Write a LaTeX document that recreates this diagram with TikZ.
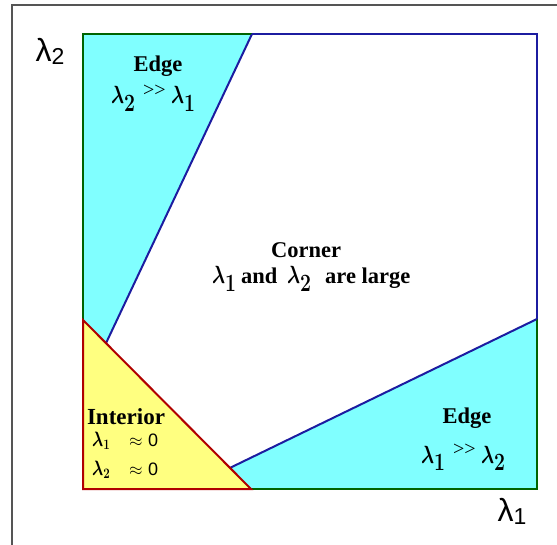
\documentclass[tikz,border=0pt]{standalone}
\usepackage{fontspec}
\setmainfont{Liberation Serif}
\newfontfamily\axisfont{Liberation Sans}
\usetikzlibrary{calc}
\definecolor{cyanfill}{HTML}{80FFFF}
\definecolor{yellowfill}{HTML}{FFFF80}
\definecolor{edgegreen}{HTML}{006400}
\definecolor{edgeblue}{HTML}{1C1CA0}
\definecolor{edgered}{HTML}{B00000}
\definecolor{framegray}{HTML}{555555}
\newcommand{\biglam}[1]{\scalebox{0.78}[1]{\fontsize{33}{36}\selectfont\boldmath$\lambda_{#1}$}}
\newcommand{\smalllam}[1]{\scalebox{0.8}[1]{\fontsize{22}{24}\selectfont\boldmath$\lambda_{#1}$}}
\newcommand{\muchgt}{{\fontsize{20}{20}\selectfont >\kern0pt>}}
\begin{document}
\begin{tikzpicture}[x=1pt,y=-1pt,
  region/.style={line width=2pt, line join=miter},
  title/.style={font=\fontsize{22.5}{26}\selectfont\bfseries, inner sep=0pt},
  piece/.style={inner sep=0pt, anchor=base west},
  word/.style={inner sep=0pt, anchor=base west, font=\fontsize{22.5}{26}\selectfont\bfseries},
  approxs/.style={inner sep=0pt, anchor=base west, font=\axisfont\fontsize{18}{20}\selectfont},
  axislabel/.style={font=\axisfont\fontsize{32}{34}\selectfont, inner sep=0pt}]
\useasboundingbox (0,0) rectangle (557,545);
% outer frame
\coordinate (fa) at (12,545);
\coordinate (fb) at (12,5);
\coordinate (fc) at (557,5);
\draw[framegray, line width=1.2pt] (fa) -- (fb) -- (fc);
% square corners
\coordinate (A) at (83,34);
\coordinate (B) at (537,34);
\coordinate (C) at (537,489);
\coordinate (D) at (83,489);
\coordinate (P1) at (252,34);
\coordinate (P3) at (83,320);
\coordinate (P4) at (251,489);
\coordinate (P2) at ($(P3)!0.137!(P4)$);
\coordinate (P5) at ($(P3)!0.875!(P4)$);
\coordinate (P6) at (537,319);
% regions
\fill[cyanfill] (A) -- (P1) -- (P2) -- (P3) -- cycle;
\fill[cyanfill] (P4) -- (C) -- (P6) -- (P5) -- cycle;
\fill[yellowfill] (P3) -- (D) -- (P4) -- cycle;
% outlines
\draw[region, edgegreen] (P3) -- (A) -- (P1);
\draw[region, edgegreen] (P4) -- (C) -- (P6);
\draw[region, edgeblue] (P1) -- (B) -- (P6);
\draw[region, edgeblue] (P1) -- (P2);
\draw[region, edgeblue] (P6) -- (P5);
\draw[region, edgered] (P3) -- (D) -- (P4) -- cycle;
% top edge region
\node[title] (edgeT) at (158,66) {Edge};
\node[piece] (tl2) at (111,104) {\biglam{2}};
\node[piece] (tgg) at (143,97) {\muchgt};
\node[piece] (tl1) at (171,104) {\biglam{1}};
% corner
\node[title] (corner) at (306,250) {Corner};
\node[piece] (cl1) at (212,284) {\biglam{1}};
\node[word] (cand) at (241,284) {and};
\node[piece] (cl2) at (287,284) {\biglam{2}};
\node[word] (clarge) at (325,284) {are large};
% interior
\node[title, font=\fontsize{23}{26}\selectfont\bfseries] (interior) at (126,417) {Interior};
\node[piece] (il1) at (92,446) {\smalllam{1}};
\node[approxs] (ia1) at (129,446) {$\approx$};
\node[approxs] (iz1) at (148,446) {0};
\node[piece] (il2) at (92,475) {\smalllam{2}};
\node[approxs] (ia2) at (129,475) {$\approx$};
\node[approxs] (iz2) at (148,475) {0};
% bottom edge region
\node[title] (edgeB) at (467,418) {Edge};
\node[piece] (bl1) at (421,463) {\biglam{1}};
\node[piece] (bgg) at (453,455) {\muchgt};
\node[piece] (bl2) at (481,463) {\biglam{2}};
% axis labels
\node[axislabel] (l2) at (50,51) {λ\raisebox{-3pt}{\fontsize{23}{24}\selectfont 2}};
\node[axislabel] (l1) at (512,511) {λ\raisebox{-3pt}{\fontsize{23}{24}\selectfont 1}};
\end{tikzpicture}
\end{document}
